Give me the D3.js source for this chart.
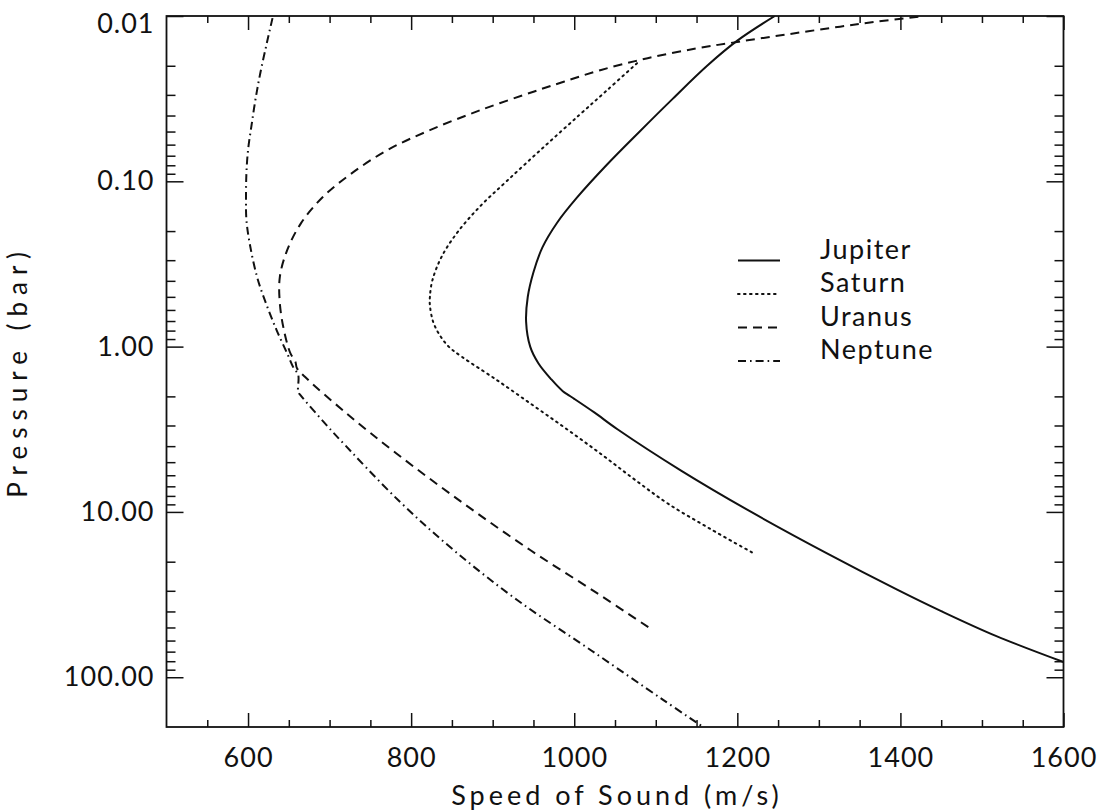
<!DOCTYPE html>
<html><head><meta charset="utf-8">
<script src="https://cdn.jsdelivr.net/npm/d3@7"></script>
<style>
html,body{margin:0;padding:0;background:#fff;}
svg text{font-family:"Lato","DejaVu Sans",sans-serif;font-weight:400;fill:#111;}
</style></head>
<body>
<svg id="chart" width="1103" height="812"></svg>
<script>
// ---------- data ----------
const planets = ["Jupiter","Saturn","Uranus","Neptune"];
const jupiterV = [1246,1200,1163,1121,1080,1040,1003,979,961,950,943,941,946,956,972,986,992,1000,1025,1053,1131,1217,1310,1396,1450,1517,1600];
const jupiterP = [0.0100,0.0141,0.0200,0.0316,0.0501,0.0794,0.126,0.178,0.251,0.355,0.501,0.708,1.00,1.26,1.58,1.86,1.95,2.07,2.51,3.16,5.62,10.0,17.8,29.5,39.8,56.2,80.9];
const saturnV = [1077,1040,1006,961,917,885,858,838,826,823,823,827,835,846,862,904,948,991,1033,1073,1115,1166,1220];
const saturnP = [0.0193,0.0282,0.0398,0.0631,0.100,0.141,0.200,0.282,0.398,0.501,0.562,0.708,0.851,1.00,1.15,1.58,2.24,3.16,4.47,6.31,8.91,12.6,17.8];
const uranusV = [1422,1372,1326,1262,1202,1150,1090,1033,988,950,885,823,771,727,692,665,648,639,639,644,652,658,660,672,721,782,864,946,1028,1093];
const uranusP = [0.0101,0.0108,0.0116,0.0129,0.0143,0.0157,0.0180,0.0212,0.0249,0.0287,0.0371,0.049,0.0647,0.0895,0.124,0.179,0.261,0.378,0.547,0.794,1.10,1.23,1.35,1.56,2.54,4.43,8.87,17.0,31.0,50.6];
const neptuneV = [630,623,615,609,604,600,598,597.5,598,602,611,622,635,648,656,661.5,661.5,664,698,713,784,852,930,1020,1109,1158];
const neptuneP = [0.0103,0.0146,0.0222,0.0322,0.0468,0.0647,0.0895,0.130,0.171,0.237,0.378,0.547,0.794,1.10,1.35,1.48,1.88,1.96,3.05,3.67,8.47,17.0,34.1,68.4,137,200];

const xMajorTicks = [600,800,1000,1200,1400,1600];
const xMajorLabels = ["600","800","1000","1200","1400","1600"];
const xMinorStep = 50;
const yMajorTicks = [0.01,0.1,1,10,100];
const yMajorLabels = ["0.01","0.10","1.00","10.00","100.00"];
const xTitle = "Speed of Sound (m/s)";
const yTitle = "Pressure (bar)";

// ---------- layout ----------
const L = 166.5, R = 1063.5, T = 16, B = 727;
const svg = d3.select("#chart");
const x = d3.scaleLinear().domain([500,1600]).range([L,R]);
const y = d3.scaleLog().domain([0.01,200]).range([T,B]);

const xMinor = d3.range(500, 1600 + 1e-9, xMinorStep).filter(v => !xMajorTicks.includes(v) && v > 500 && v < 1600);
const yMinor = [];
[0.01,0.1,1,10,100].forEach(d => { for (let k = 2; k <= 9; k++) { const v = d*k; if (v < 200) yMinor.push(v); } });

const tickStroke = g => { g.select(".domain").remove(); g.selectAll(".tick line").attr("stroke","#111").attr("stroke-width",1.5); };
const labelStyle = g => g.selectAll("text").attr("font-size",27).attr("letter-spacing",1).attr("fill","#111")
  .attr("font-family","Lato, 'DejaVu Sans', sans-serif");

// bottom axis
svg.append("g").attr("transform",`translate(0,${B})`)
  .call(d3.axisBottom(x).tickValues(xMajorTicks).tickSize(-14).tickPadding(21).tickFormat((d,i)=>xMajorLabels[i]))
  .call(tickStroke).call(labelStyle);
svg.append("g").attr("transform",`translate(0,${B})`)
  .call(d3.axisBottom(x).tickValues(xMinor).tickSize(-7).tickFormat(""))
  .call(tickStroke);
// top axis
svg.append("g").attr("transform",`translate(0,${T})`)
  .call(d3.axisTop(x).tickValues(xMajorTicks).tickSize(-14).tickFormat(""))
  .call(tickStroke);
svg.append("g").attr("transform",`translate(0,${T})`)
  .call(d3.axisTop(x).tickValues(xMinor).tickSize(-7).tickFormat(""))
  .call(tickStroke);
// left axis
svg.append("g").attr("transform",`translate(${L},0)`)
  .call(d3.axisLeft(y).tickValues(yMajorTicks).tickSize(-17).tickPadding(12).tickFormat((d,i)=>yMajorLabels[i]))
  .call(tickStroke).call(labelStyle)
  .call(g => g.selectAll(".tick text").filter(d => d === 0.01).attr("dy","0.62em"));
svg.append("g").attr("transform",`translate(${L},0)`)
  .call(d3.axisLeft(y).tickValues(yMinor).tickSize(-9).tickFormat(""))
  .call(tickStroke);
// right axis
svg.append("g").attr("transform",`translate(${R},0)`)
  .call(d3.axisRight(y).tickValues(yMajorTicks).tickSize(-17).tickFormat(""))
  .call(tickStroke);
svg.append("g").attr("transform",`translate(${R},0)`)
  .call(d3.axisRight(y).tickValues(yMinor).tickSize(-9).tickFormat(""))
  .call(tickStroke);

// frame
svg.append("rect").attr("x",L).attr("y",T).attr("width",R-L).attr("height",B-T)
  .attr("fill","none").attr("stroke","#111").attr("stroke-width",1.8);

// titles
svg.append("text").attr("x",(L+R)/2 + 2).attr("y",805).attr("text-anchor","middle")
  .attr("font-size",27).attr("letter-spacing",4).text(xTitle);
svg.append("text").attr("transform",`translate(27,${(T+B)/2}) rotate(-90)`).attr("text-anchor","middle")
  .attr("font-size",26).attr("letter-spacing",7).text(yTitle);

// curves
const series = [
  {name:"Jupiter", v:jupiterV, p:jupiterP, dash:null},
  {name:"Saturn", v:saturnV, p:saturnP, dash:"1.6,4.4"},
  {name:"Uranus", v:uranusV, p:uranusP, dash:"9,6"},
  {name:"Neptune", v:neptuneV, p:neptuneP, dash:"8,4,1.6,4"}
];
const line = d3.line().x(d=>x(d[0])).y(d=>y(d[1])).curve(d3.curveCatmullRom.alpha(0.5));
svg.append("clipPath").attr("id","clip").append("rect")
  .attr("x",L).attr("y",T).attr("width",R-L).attr("height",B-T);
series.forEach(s => {
  const pts = s.v.map((v,i)=>[v,s.p[i]]);
  svg.append("path").datum(pts).attr("d",line).attr("fill","none")
    .attr("stroke","#111").attr("stroke-width",2)
    .attr("stroke-dasharray",s.dash)
    .attr("stroke-linecap", s.name==="Saturn" ? "round" : "butt")
    .attr("clip-path","url(#clip)");
});

// legend
const legY = [258.5,292,325.5,359];
series.forEach((s,i) => {
  svg.append("line").attr("x1",738).attr("x2",780).attr("y1",legY[i]+2).attr("y2",legY[i]+2)
    .attr("stroke","#111").attr("stroke-width",2).attr("stroke-dasharray",s.dash)
    .attr("stroke-linecap", s.name==="Saturn" ? "round" : "butt");
  svg.append("text").attr("x",820).attr("y",legY[i]).attr("font-size",27).attr("letter-spacing",1.5).text(planets[i]);
});
</script>
</body></html>
